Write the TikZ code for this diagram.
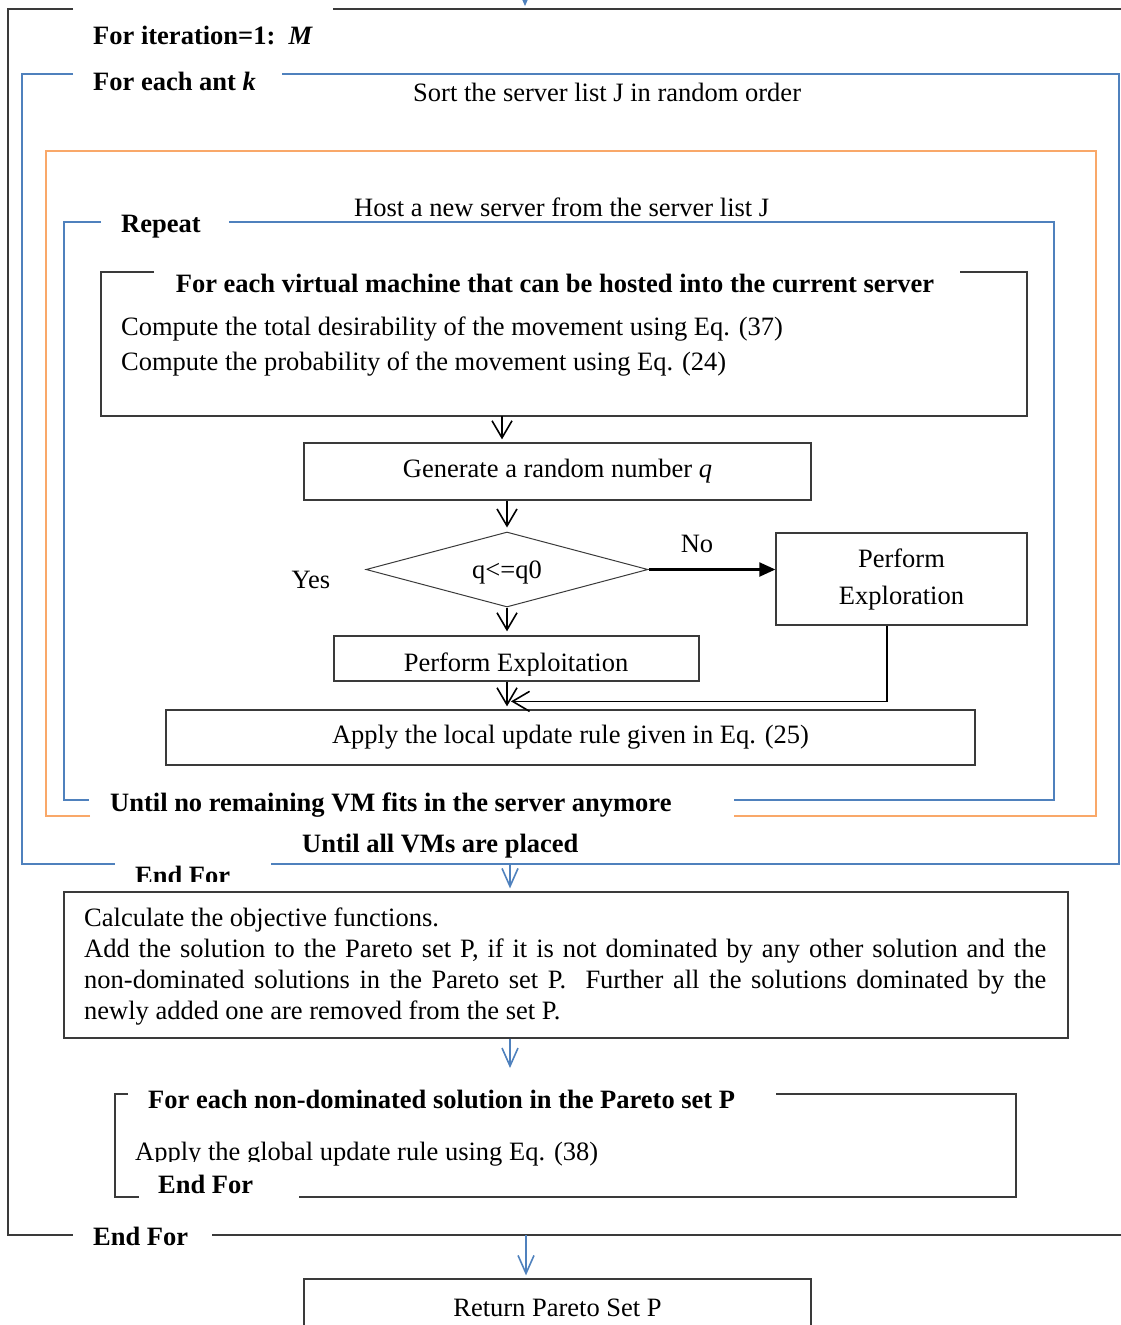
\documentclass[tikz,border=0pt]{standalone}
\usepackage{fontspec}
\setmainfont{Liberation Serif}
\usetikzlibrary{arrows.meta,shapes.geometric,positioning,calc}
\definecolor{frameblue}{HTML}{4F81BD}
\definecolor{frameorange}{HTML}{F9A869}
\definecolor{framegray}{HTML}{3A3A3A}

\begin{document}
\begin{tikzpicture}[x=1pt,y=-1pt,line cap=butt,line join=miter,
    txt/.style={font=\fontsize{26.5}{31}\selectfont,inner sep=0pt},
    btxt/.style={txt,font=\fontsize{26.5}{31}\selectfont\bfseries},
    box/.style={draw=framegray,line width=1.3pt,rectangle,inner sep=0pt,
        font=\fontsize{26.5}{31}\selectfont},
    blackframe/.style={draw=framegray,line width=1.4pt},
    blueframe/.style={draw=frameblue,line width=1.8pt},
    orangeframe/.style={draw=frameorange,line width=1.4pt},
    flow/.style={-{Straight Barb[length=17pt,width=20pt]},line width=1.6pt},
    blueflow/.style={draw=frameblue,-{Straight Barb[length=18pt,width=16pt]},line width=1.6pt},
    choice/.style={-{Triangle[length=16pt,width=14pt]},line width=2.2pt},
    ]

        \useasboundingbox (0,0) rectangle (1121,1325);

        % --- Loop frames ---
        % iteration loop
        \draw[blackframe] (73,9) -- (8,9) -- (8,1235) -- (73,1235);
        \draw[blackframe] (333,9) -- (1130,9);
        \draw[blackframe] (212,1235) -- (1130,1235);

        % ant loop
        \draw[blueframe] (73,74) -- (22,74) -- (22,864) -- (115,864);
        \draw[blueframe] (282,74) -- (1119,74) -- (1119,864) -- (271,864);

        % server loop
        \draw[orangeframe] (90,816) -- (46,816) -- (46,151) -- (1096,151) -- (1096,816) -- (734,816);

        % repeat loop
        \draw[blueframe] (101,222) -- (64,222) -- (64,800) -- (89,800);
        \draw[blueframe] (229,222) -- (1054,222) -- (1054,800) -- (734,800);

        % virtual machine loop
        \draw[blackframe] (154,272) -- (101,272) -- (101,416) -- (1027,416) -- (1027,272) -- (960,272);

        % pareto loop
        \draw[blackframe] (128,1094) -- (115,1094) -- (115,1197) -- (139,1197);
        \draw[blackframe] (776,1094) -- (1016,1094) -- (1016,1197) -- (299,1197);

        % --- Loop labels ---
        \node[btxt,anchor=base west] (iterlbl) at (93,44) {For iteration=1:\ \ \textit{M}};
        \node[btxt,anchor=base west] (antlbl) at (93,90) {For each ant \textit{k}};
        \node[txt,anchor=base west] (sortlbl) at (413,101) {Sort the server list J in random order};
        \node[txt,anchor=base west] (hostlbl) at (354,216) {Host a new server from the server list J};
        \node[btxt,anchor=base west] (replbl) at (121,232) {Repeat};
        \node[btxt,anchor=base] (vmlbl) at (555,292) {For each virtual machine that can be hosted into the current server};
        \node[txt,anchor=base west] (desir) at (121,335) {Compute the total desirability of the movement using Eq. (37)};
        \node[txt,anchor=base west] (prob) at (121,370) {Compute the probability of the movement using Eq. (24)};

        % --- Move selection ---
        \coordinate (vmbot) at (502,416);
        \node[box,minimum width=507pt,minimum height=57pt] (gen) at (557.5,471.5) {Generate a random number \textit{q}};
        \draw[flow] (vmbot) -- ([yshift=3pt]vmbot |- gen.north);

        \node[txt,diamond,shape aspect=3.76,draw=framegray,line width=1pt,
            minimum width=282pt,minimum height=75pt,text depth=0pt] (dec) at (507,569.5) {q<=q0};
        \draw[flow] (gen.south -| dec.north) -- ([yshift=4pt]dec.north);

        \node[box,minimum width=251pt,minimum height=92pt,align=center,
            font=\fontsize{26.5}{37}\selectfont] (explore) at (901.5,579) {Perform\\Exploration};
        \draw[choice] (dec.east) -- (dec.east -| explore.west);
        \node[txt,anchor=base] (yes) at (311,588) {Yes};
        \node[txt,anchor=base] (no) at (697,552) {No};

        \node[box,minimum width=365pt,minimum height=45pt] (exploit) at (516.5,658.5) {};
        \begin{scope}
            \clip (exploit.north west) rectangle ([yshift=6pt]exploit.south east);
            \node[txt,anchor=base] (exploittxt) at (516,671) {Perform Exploitation};
        \end{scope}
        \draw[flow] (dec.south) -- ([yshift=4pt]dec.south |- exploit.north);

        \node[box,minimum width=809pt,minimum height=55pt] (apply) at (570.5,737.5) {Apply the local update rule given in Eq. (25)};
        \draw[flow] (exploit.south -| dec.south) -- ([yshift=3pt]apply.north -| dec.south);
        \draw[flow] ([xshift=-14.5pt]explore.south) |- ([xshift=4pt,yshift=8pt]apply.north -| dec.south);

        % --- Loop ends ---
        \node[btxt,anchor=base west] (untilvm) at (110,811) {Until no remaining VM fits in the server anymore};
        \node[btxt,anchor=base west] (untilall) at (302,852) {Until all VMs are placed};
        \begin{scope}
            \clip (100,850) rectangle (300,881);
            \node[btxt,anchor=base west] (endant) at (135,884) {End For};
        \end{scope}

        % --- Pareto update ---
        \coordinate (antbot) at (510,864);
        \node[box,minimum width=1004pt,minimum height=146pt] (calc) at (566,965) {};
        \node[txt,anchor=north west,text width=962pt,align=justify] (calctxt) at (84,908)
            {Calculate the objective functions.\\
            Add the solution to the Pareto set P, if it is not dominated by any other solution and the\linebreak
            non-dominated solutions in the Pareto set P.\ \ Further all the solutions dominated by the\linebreak
            newly added one are removed from the set P.};
        \draw[blueflow] (antbot) -- ([yshift=3pt]antbot |- calc.north);

        \coordinate (calcarrow) at (510,1068);
        \draw[blueflow] (calc.south -| antbot) -- (calcarrow);

        \node[btxt,anchor=base west] (parlbl) at (148,1108) {For each non-dominated solution in the Pareto set P};
        \begin{scope}
            \clip (120,1100) rectangle (300,1161) (300,1100) rectangle (1000,1190);
            \node[txt,anchor=base west] (globtxt) at (135,1160) {Apply the global update rule using Eq. (38)};
        \end{scope}
        \node[btxt,anchor=base west] (endpar) at (158,1193) {End For};
        \node[btxt,anchor=base west] (enditer) at (93,1245) {End For};

        % --- Result ---
        \coordinate (entry) at (525,-20);
        \coordinate (entrytip) at (525,6);
        \draw[blueflow] (entry) -- (entrytip);

        \coordinate (iterbot) at (526,1235);
        \node[box,minimum width=507pt,minimum height=58pt] (ret) at (557.5,1308) {Return Pareto Set P};
        \draw[blueflow] (iterbot) -- ([yshift=3pt]iterbot |- ret.north);

    \end{tikzpicture}
\end{document}
